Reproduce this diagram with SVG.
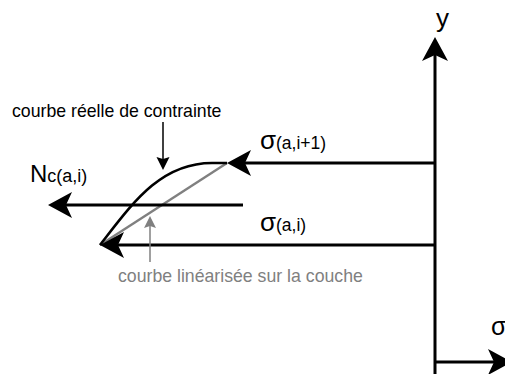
<svg xmlns="http://www.w3.org/2000/svg" width="505" height="374" viewBox="0 0 505 374">
<style>
.ax{stroke:#000;stroke-width:3;fill:none}
.crv{stroke:#000;stroke-width:2.6;fill:none}
.lin{stroke:#808080;stroke-width:2.4;fill:none}
.ptr{stroke:#000;stroke-width:1.5;fill:none}
.gptr{stroke:#808080;stroke-width:1.5;fill:none}
text{font-family:"Liberation Sans",Arial,Helvetica,sans-serif;fill:#000}
.g{fill:#808080}
</style>
<defs>
<marker id="big" markerUnits="userSpaceOnUse" markerWidth="30" markerHeight="30" refX="6" refY="13" orient="auto" overflow="visible">
<path d="M24,13 L0,0 L6,13 L0,26 Z" fill="#000"/>
</marker>
<marker id="small" markerUnits="userSpaceOnUse" markerWidth="16" markerHeight="16" refX="2" refY="6.5" orient="auto" overflow="visible">
<path d="M13,6.5 L0,0 L2,6.5 L0,13 Z" fill="#000"/>
</marker>
<marker id="gsmall" markerUnits="userSpaceOnUse" markerWidth="16" markerHeight="16" refX="2" refY="6" orient="auto" overflow="visible">
<path d="M12,6 L0,0 L2,6 L0,12 Z" fill="#808080"/>
</marker>
</defs>
<g id="connectors">
<path class="lin" d="M100,245 L227,163"/>
<path class="crv" d="M100,245 C132,204 160,163 212,163 L227,163"/>
<path class="ax" d="M435,374 L435,55" marker-end="url(#big)"/>
<path class="ax" d="M435,362 L494,362" marker-end="url(#big)"/>
<path class="ax" d="M435,163 L245,163" marker-end="url(#big)"/>
<path class="ax" d="M243,205 L66,205" marker-end="url(#big)"/>
<path class="ax" d="M435,245 L118,245" marker-end="url(#big)"/>
<path class="ptr" d="M163,122 L163,159" marker-end="url(#small)"/>
<path class="gptr" d="M150,262 L150,226" marker-end="url(#gsmall)"/>
</g>
<g id="label-y"><text x="436" y="27" font-size="26">y</text></g>
<g id="label-sigma-axis"><text x="491" y="335" font-size="25">σ</text></g>
<g id="label-sigma-i1"><text x="260" y="149"><tspan font-size="26">σ</tspan><tspan font-size="17.5">(a,i+1)</tspan></text></g>
<g id="label-sigma-i"><text x="260" y="231"><tspan font-size="26">σ</tspan><tspan font-size="17.5">(a,i)</tspan></text></g>
<g id="label-N"><text x="30" y="182"><tspan font-size="24">N</tspan><tspan font-size="18">c(a,i)</tspan></text></g>
<g id="label-reelle"><text x="12" y="117" font-size="17.7">courbe réelle de contrainte</text></g>
<g id="label-linearisee"><text class="g" x="118" y="282" font-size="17.7">courbe linéarisée sur la couche</text></g>
</svg>
